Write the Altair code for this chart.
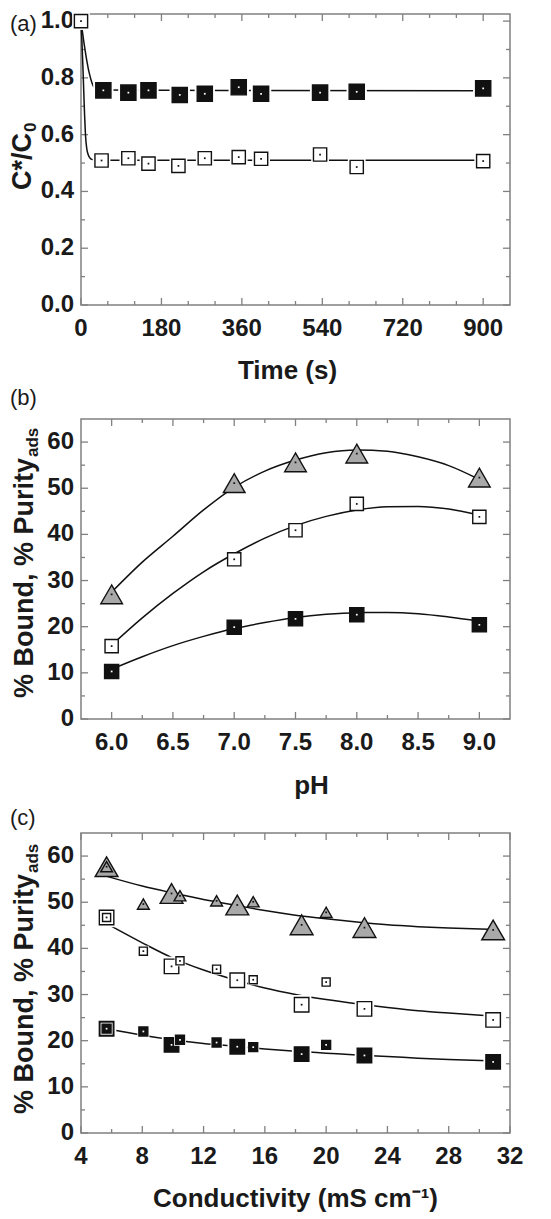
import altair as alt
import pandas as pd

# ---------------- Panel (a): C*/C0 vs time ----------------
a_time_filled = [50, 106, 151, 221, 277, 353, 403, 535, 617, 900]
a_ratio_filled = [0.756, 0.748, 0.756, 0.740, 0.744, 0.767, 0.744, 0.748, 0.751, 0.763]
a_time_open = [0, 46, 106, 151, 218, 277, 353, 403, 535, 617, 900]
a_ratio_open = [1.0, 0.509, 0.517, 0.498, 0.490, 0.517, 0.521, 0.515, 0.530, 0.486, 0.507]
a_fit_filled_time = [0, 6, 12, 18, 24, 30, 40, 900]
a_fit_filled_ratio = [1.0, 0.93, 0.87, 0.82, 0.785, 0.765, 0.757, 0.755]
a_fit_open_time = [0, 2, 4, 6, 8, 10, 13, 16, 20, 26, 35, 900]
a_fit_open_ratio = [1.0, 0.93, 0.85, 0.76, 0.67, 0.60, 0.55, 0.53, 0.518, 0.512, 0.51, 0.51]
a_x_major = [0, 180, 360, 540, 720, 900]
a_x_labels = ["0", "180", "360", "540", "720", "900"]
a_x_minor = [60, 120, 240, 300, 420, 480, 600, 660, 780, 840]
a_y_major = [0.0, 0.2, 0.4, 0.6, 0.8, 1.0]
a_y_labels = ["0.0", "0.2", "0.4", "0.6", "0.8", "1.0"]
a_y_minor = [0.1, 0.3, 0.5, 0.7, 0.9]

# ---------------- Panel (b): vs pH ----------------
b_ph = [6.0, 7.0, 7.5, 8.0, 9.0]
b_purity = [27.0, 51.1, 55.6, 57.5, 52.3]
b_bound_open = [15.8, 34.6, 40.9, 46.6, 43.8]
b_bound_filled = [10.3, 19.9, 21.7, 22.6, 20.4]
b_fit_ph = [6.0, 6.25, 6.5, 6.75, 7.0, 7.25, 7.5, 7.75, 8.0, 8.25, 8.5, 8.75, 9.0]
b_fit_purity = [27.5, 34.0, 39.6, 45.3, 50.2, 53.7, 56.1, 57.7, 58.3, 58.0, 56.8, 54.9, 51.9]
b_fit_open = [16.0, 21.9, 27.2, 31.9, 35.8, 39.2, 41.9, 43.9, 45.3, 46.0, 46.05, 45.5, 44.2]
b_fit_filled = [10.8, 13.5, 15.9, 17.9, 19.6, 20.9, 22.0, 22.7, 23.04, 23.07, 22.8, 22.1, 21.2]
b_x_major = [6.0, 6.5, 7.0, 7.5, 8.0, 8.5, 9.0]
b_x_labels = ["6.0", "6.5", "7.0", "7.5", "8.0", "8.5", "9.0"]
b_x_minor = [6.25, 6.75, 7.25, 7.75, 8.25, 8.75]
b_y_major = [0, 10, 20, 30, 40, 50, 60]
b_y_labels = ["0", "10", "20", "30", "40", "50", "60"]
b_y_minor = [5, 15, 25, 35, 45, 55]

# ---------------- Panel (c): vs conductivity ----------------
c_cond_big = [5.67, 9.91, 14.2, 18.4, 22.5, 30.9]
c_purity_big = [57.7, 51.9, 49.4, 45.1, 44.5, 44.0]
c_open_big = [46.7, 36.1, 33.1, 27.8, 26.9, 24.5]
c_filled_big = [22.6, 19.1, 18.7, 17.1, 16.8, 15.4]
c_cond_small = [5.67, 8.07, 10.46, 12.85, 15.24, 20.0]
c_purity_small = [57.7, 49.6, 51.4, 50.3, 50.1, 47.8]
c_open_small = [46.7, 39.4, 37.3, 35.5, 33.2, 32.7]
c_filled_small = [22.6, 22.0, 20.2, 19.6, 18.6, 19.1]
c_fit_cond = [5.7, 8, 10, 12, 14, 16, 18, 20, 22, 24, 26, 28, 31]
c_fit_purity = [55.6, 53.5, 52.0, 50.6, 49.4, 48.2, 47.2, 46.4, 45.7, 45.1, 44.7, 44.4, 44.1]
c_fit_open = [45.3, 41.2, 37.9, 35.3, 33.2, 31.4, 30.0, 28.9, 28.0, 27.2, 26.5, 26.0, 25.3]
c_fit_filled = [22.6, 21.2, 20.2, 19.4, 18.8, 18.2, 17.7, 17.3, 16.9, 16.6, 16.2, 15.9, 15.6]
c_x_major = [4, 8, 12, 16, 20, 24, 28, 32]
c_x_labels = ["4", "8", "12", "16", "20", "24", "28", "32"]
c_x_minor = [6, 10, 14, 18, 22, 26, 30]
c_y_major = [0, 10, 20, 30, 40, 50, 60]
c_y_labels = ["0", "10", "20", "30", "40", "50", "60"]
c_y_minor = [5, 15, 25, 35, 45, 55]

FONT = "Liberation Sans"
INK = "#1a1a1a"
FRAME = "#808080"
GRAY = "#a9a9a9"
W = 429
HA, HB, HC = 291, 300, 300


def tick_layers(xmaj, xmin, ymaj, ymin, xs, ys, H):
    out = []
    for vals, L in ((xmaj, 7), (xmin, 4)):
        base = alt.Chart(pd.DataFrame({"v": vals})).mark_rule(color=FRAME, strokeWidth=1.3)
        xe = alt.X("v:Q", scale=xs, axis=None)
        out.append(base.encode(x=xe, y=alt.value(H), y2=alt.value(H - L)))
        out.append(base.encode(x=xe, y=alt.value(0), y2=alt.value(L)))
    for vals, L in ((ymaj, 7), (ymin, 4)):
        base = alt.Chart(pd.DataFrame({"v": vals})).mark_rule(color=FRAME, strokeWidth=1.3)
        ye = alt.Y("v:Q", scale=ys, axis=None)
        out.append(base.encode(y=ye, x=alt.value(0), x2=alt.value(L)))
        out.append(base.encode(y=ye, x=alt.value(W), x2=alt.value(W - L)))
    return out


def tick_labels(xv, xl, yv, yl, xs, ys, H):
    dx = pd.DataFrame({"v": xv, "lab": xl})
    dy = pd.DataFrame({"v": yv, "lab": yl})
    style = dict(font=FONT, fontSize=24, fontWeight="bold", color=INK)
    return [
        alt.Chart(dx).mark_text(align="center", baseline="alphabetic", **style).encode(
            x=alt.X("v:Q", scale=xs, axis=None), y=alt.value(H + 31), text="lab:N"),
        alt.Chart(dy).mark_text(align="right", baseline="middle", **style).encode(
            y=alt.Y("v:Q", scale=ys, axis=None), x=alt.value(-7), text="lab:N"),
    ]


def fit_line(xv, yv, xs, ys):
    df = pd.DataFrame({"x": xv, "y": yv})
    return alt.Chart(df).mark_line(color="#111111", strokeWidth=1.5, interpolate="monotone").encode(
        x=alt.X("x:Q", scale=xs, axis=None), y=alt.Y("y:Q", scale=ys, axis=None))


def markers(xv, yv, xs, ys, shape, fill, size, dot, halo=False):
    df = pd.DataFrame({"x": xv, "y": yv})
    enc = dict(x=alt.X("x:Q", scale=xs, axis=None), y=alt.Y("y:Q", scale=ys, axis=None))
    out = []
    if halo:
        out.append(alt.Chart(df).mark_point(shape=shape, filled=True, fill="white", opacity=1,
                                            size=size * 1.8, strokeWidth=0).encode(**enc))
    out.append(alt.Chart(df).mark_point(shape=shape, filled=True, fill=fill, opacity=1,
                                        stroke="#111111", strokeWidth=1.4, size=size).encode(**enc))
    out.append(alt.Chart(df).mark_point(shape="square", filled=True, fill=dot, opacity=1,
                                        size=3, strokeWidth=0).encode(**enc))
    return out


ONE = pd.DataFrame({"k": [0]})


def label_text(txt, x, y, size=22, weight="normal", angle=0, align="left"):
    return alt.Chart(ONE).mark_text(text=txt, font=FONT, fontSize=size, fontWeight=weight,
                                    color=INK, angle=angle, align=align,
                                    baseline="alphabetic").encode(x=alt.value(x), y=alt.value(y))


def ytitle(main, sub, ytop, xmain=-48, xsub=-43):
    return [label_text(main, xmain, ytop, size=27, weight="bold", angle=270, align="right"),
            label_text(sub, xsub, ytop - 1, size=17, weight="bold", angle=270, align="left")]


def xtitle(txt, H, dy, dx=0):
    return label_text(txt, W / 2 + dx, H + dy, size=26, weight="bold", align="center")


# ---------- panel (a) ----------
xa = alt.Scale(domain=[0, 960], nice=False, zero=False)
ya = alt.Scale(domain=[0, 1.025], nice=False, zero=False)
pa_layers = (
    tick_layers(a_x_major, a_x_minor, a_y_major, a_y_minor, xa, ya, HA)
    + tick_labels(a_x_major, a_x_labels, a_y_major, a_y_labels, xa, ya, HA)
    + [fit_line(a_fit_filled_time, a_fit_filled_ratio, xa, ya),
       fit_line(a_fit_open_time, a_fit_open_ratio, xa, ya)]
    + markers(a_time_filled, a_ratio_filled, xa, ya, "square", "#111111", 230, "white", halo=True)
    + markers(a_time_open, a_ratio_open, xa, ya, "square", "white", 175, "#111111", halo=True)
    + ytitle("C*/C", "0", 119, xmain=-50, xsub=-45)
    + [xtitle("Time (s)", HA, 74, dx=-8), label_text("(a)", -71, 17)]
)
pa = alt.layer(*pa_layers).properties(width=W, height=HA)

# ---------- panel (b) ----------
xb = alt.Scale(domain=[5.75, 9.25], nice=False, zero=False)
yb = alt.Scale(domain=[0, 65], nice=False, zero=False)
pb_layers = (
    tick_layers(b_x_major, b_x_minor, b_y_major, b_y_minor, xb, yb, HB)
    + tick_labels(b_x_major, b_x_labels, b_y_major, b_y_labels, xb, yb, HB)
    + [fit_line(b_fit_ph, b_fit_purity, xb, yb),
       fit_line(b_fit_ph, b_fit_open, xb, yb),
       fit_line(b_fit_ph, b_fit_filled, xb, yb)]
    + markers(b_ph, b_purity, xb, yb, "triangle-up", GRAY, 470, "#111111")
    + markers(b_ph, b_bound_open, xb, yb, "square", "white", 175, "#111111")
    + markers(b_ph, b_bound_filled, xb, yb, "square", "#111111", 200, "white")
    + ytitle("% Bound, % Purity", "ads", 39)
    + [xtitle("pH", HB, 75, dx=16), label_text("(b)", -71, -14)]
)
pb = alt.layer(*pb_layers).properties(width=W, height=HB)

# ---------- panel (c) ----------
xc = alt.Scale(domain=[4, 32], nice=False, zero=False)
yc = alt.Scale(domain=[0, 65], nice=False, zero=False)
pc_layers = (
    tick_layers(c_x_major, c_x_minor, c_y_major, c_y_minor, xc, yc, HC)
    + tick_labels(c_x_major, c_x_labels, c_y_major, c_y_labels, xc, yc, HC)
    + [fit_line(c_fit_cond, c_fit_purity, xc, yc),
       fit_line(c_fit_cond, c_fit_open, xc, yc),
       fit_line(c_fit_cond, c_fit_filled, xc, yc)]
    + markers(c_cond_big, c_purity_big, xc, yc, "triangle-up", GRAY, 520, "#111111")
    + markers(c_cond_small, c_purity_small, xc, yc, "triangle-up", GRAY, 140, "#111111")
    + markers(c_cond_big, c_open_big, xc, yc, "square", "white", 210, "#111111", halo=True)
    + markers(c_cond_small, c_open_small, xc, yc, "square", "white", 65, "#111111", halo=True)
    + markers(c_cond_big, c_filled_big, xc, yc, "square", "#111111", 210, "white", halo=True)
    + markers(c_cond_small, c_filled_small, xc, yc, "square", "#111111", 80, "white", halo=True)
    + ytitle("% Bound, % Purity", "ads", 41)
    + [xtitle("Conductivity (mS cm\u207b\u00b9)", HC, 74), label_text("(c)", -71, -8)]
)
pc = alt.layer(*pc_layers).properties(width=W, height=HC)

chart = alt.vconcat(pa, pb, pc, spacing=114, bounds="flush").properties(
    padding={"left": 0, "top": 0, "right": 5, "bottom": 0}
).configure_view(stroke=FRAME, strokeWidth=1.5)

chart.save("out.html", embed_options={"renderer": "svg", "actions": False})
